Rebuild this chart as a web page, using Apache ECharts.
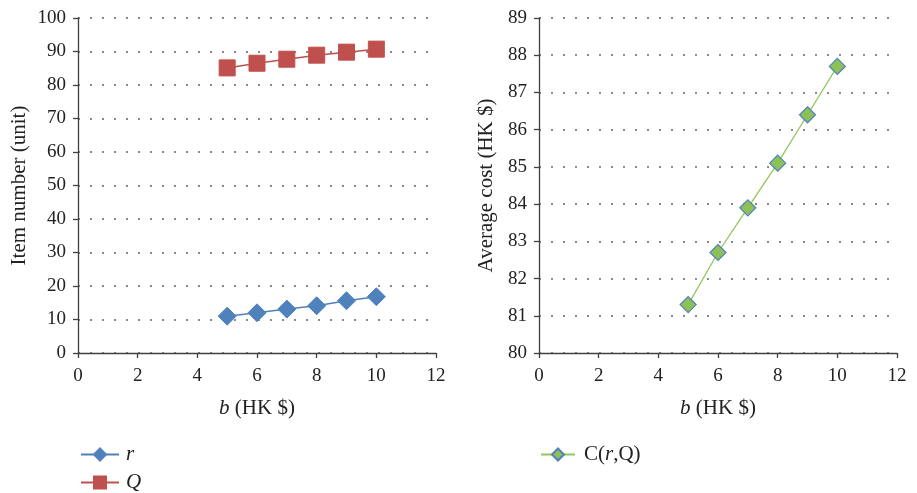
<!DOCTYPE html>
<html><head><meta charset="utf-8">
<script src="https://cdn.jsdelivr.net/npm/echarts@6/dist/echarts.min.js"></script>
<style>html,body{margin:0;padding:0;background:#fff}#c{width:917px;height:493px}</style>
</head><body><div id="c"></div>
<script>
var bValues = [5, 6, 7, 8, 9, 10];
var rValues = [11.0, 12.0, 13.1, 14.1, 15.6, 16.8];
var QValues = [85.1, 86.5, 87.7, 88.9, 89.8, 90.7];
var CValues = [81.3, 82.7, 83.9, 85.1, 86.4, 87.7];
var seriesNames = ['r', 'Q', 'C(r,Q)'];

function pairs(xs, ys){ return xs.map(function(x,i){ return [x, ys[i]]; }); }

var FONT = '"Liberation Serif", "DejaVu Serif", serif';
var axisCol = '#404040';
var TXT = '#222';
var chart = echarts.init(document.getElementById('c'));

function xAxisCfg(gi){
  return {
    gridIndex: gi, type: 'value', min: 0, max: 12, interval: 2,
    name: '{i|b} (HK $)', nameLocation: 'middle', nameGap: 45, nameMoveOverlap: false,
    nameTextStyle: {fontFamily: FONT, fontSize: 21, color: TXT,
      rich: {i: {fontFamily: FONT, fontStyle: 'italic', fontSize: 21, color: TXT}}},
    axisLine: {show: true, onZero: false, lineStyle: {color: axisCol, width: 1.3}},
    axisTick: {show: true, inside: false, length: 5, lineStyle: {color: axisCol, width: 1.3}},
    axisLabel: {fontFamily: FONT, fontSize: 19, color: TXT, margin: 14},
    splitLine: {show: false}
  };
}
function yAxisCfg(gi, min, max, interval, name, gap){
  return {
    gridIndex: gi, type: 'value', min: min, max: max, interval: interval,
    name: name, nameLocation: 'middle', nameGap: gap, nameRotate: 90, nameMoveOverlap: false,
    nameTextStyle: {fontFamily: FONT, fontSize: 21, color: TXT},
    axisLine: {show: true, onZero: false, lineStyle: {color: axisCol, width: 1.3}},
    axisTick: {show: true, inside: false, length: 5, lineStyle: {color: axisCol, width: 1.3}},
    axisLabel: {fontFamily: FONT, fontSize: 19, color: TXT, margin: 12},
    splitLine: {show: true, lineStyle: {color: '#8a8a8a', width: 2, type: [2, 10]}}
  };
}
function legendCfg(name, left, top, w, tpad, fmt){
  return {data: [name], orient: 'vertical', left: left, top: top, padding: 0,
    itemWidth: w, itemHeight: 15,
    formatter: fmt,
    textStyle: {fontFamily: FONT, fontSize: 21, color: TXT, padding: [0,0,0,tpad],
      rich: {u: {fontFamily: FONT, fontSize: 21, color: TXT},
             i: {fontFamily: FONT, fontStyle: 'italic', fontSize: 21, color: TXT}}}};
}

var option = {
  backgroundColor: '#fff',
  animation: false,
  grid: [
    {left: 78, right: 481, top: 18, bottom: 140},
    {left: 539, right: 20, top: 18, bottom: 140}
  ],
  xAxis: [xAxisCfg(0), xAxisCfg(1)],
  yAxis: [
    yAxisCfg(0, 0, 100, 10, 'Item number (unit)', 48),
    yAxisCfg(1, 80, 89, 1, 'Average cost (HK $)', 42)
  ],
  legend: [
    legendCfg(seriesNames[0], 80, 444, 38, 2, function(n){ return '{i|' + n + '}'; }),
    legendCfg(seriesNames[1], 80, 472, 38, 2, function(n){ return '{i|' + n + '}'; }),
    legendCfg(seriesNames[2], 540, 444, 34, 4, function(n){ return '{u|C(}{i|r}{u|,Q)}'; })
  ],
  series: [
    {name: seriesNames[0], type: 'line', xAxisIndex: 0, yAxisIndex: 0,
     data: pairs(bValues, rValues), symbol: 'diamond', symbolSize: 18,
     lineStyle: {color: '#4F81BD', width: 1.5},
     itemStyle: {color: '#4F81BD', borderColor: '#4F81BD', borderWidth: 1}},
    {name: seriesNames[1], type: 'line', xAxisIndex: 0, yAxisIndex: 0,
     data: pairs(bValues, QValues), symbol: 'rect', symbolSize: 16,
     lineStyle: {color: '#C0504D', width: 1.5},
     itemStyle: {color: '#C0504D', borderColor: '#C0504D', borderWidth: 1}},
    {name: seriesNames[2], type: 'line', xAxisIndex: 1, yAxisIndex: 1,
     data: pairs(bValues, CValues), symbol: 'diamond', symbolSize: 16,
     lineStyle: {color: '#92C85A', width: 1.3},
     itemStyle: {color: '#8DC056', borderColor: '#4F81BD', borderWidth: 1.2}}
  ]
};
chart.setOption(option);
</script></body></html>
